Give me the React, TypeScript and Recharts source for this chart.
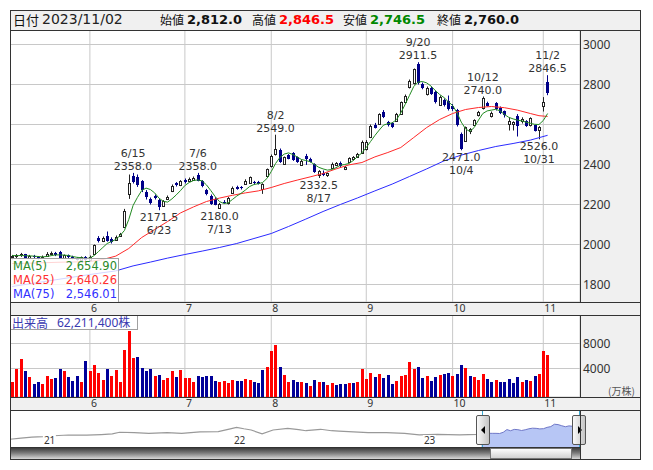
import React from "react";
import { ComposedChart, Bar, Line, Area, XAxis, YAxis, CartesianGrid } from "recharts";

const FONT = '"Noto Sans", "Noto Sans CJK JP", sans-serif';
const HFONT = '"DejaVu Sans", "Noto Sans CJK JP", sans-serif';
const JFONT = '"Noto Sans CJK JP", "Noto Sans", sans-serif';
const NAVY = "#000088";

// ---- categories (trading days) ----
const dates = [
  "5/8","5/9","5/10","5/11","5/12","5/15","5/16","5/17","5/18","5/19","5/22","5/23","5/24","5/25","5/26","5/29","5/30","5/31",
  "6/1","6/2","6/5","6/6","6/7","6/8","6/9","6/12","6/13","6/14","6/15","6/16","6/19","6/20","6/21","6/22","6/23","6/26","6/27","6/28","6/29","6/30",
  "7/3","7/4","7/5","7/6","7/7","7/10","7/11","7/12","7/13","7/14","7/18","7/19","7/20","7/21","7/24","7/25","7/26","7/27","7/28","7/31",
  "8/1","8/2","8/3","8/4","8/7","8/8","8/9","8/10","8/14","8/15","8/16","8/17","8/18","8/21","8/22","8/23","8/24","8/25","8/28","8/29","8/30","8/31",
  "9/1","9/4","9/5","9/6","9/7","9/8","9/11","9/12","9/13","9/14","9/15","9/19","9/20","9/21","9/22","9/25","9/26","9/27","9/28","9/29",
  "10/2","10/3","10/4","10/5","10/6","10/10","10/11","10/12","10/13","10/16","10/17","10/18","10/19","10/20","10/23","10/24","10/25","10/26","10/27","10/30","10/31",
  "11/1","11/2",
];
const futureDates = ["11/6","11/7","11/8","11/9","11/10","11/13","11/14"];
const monthStarts = ["6/1","7/3","8/1","9/1","10/2","11/1"];

// ---- prices ----
const opens = [
  1938,1942,1948,1950,1935,1944,1938,1932,1942,1952,1960,1962,1935,1946,1940,1932,1925,1938,
  1925,1952,2035,2016,2040,2030,2025,2042,2088,2253,2345,2338,2318,2262,2228,2242,2222,2195,2228,2267,2306,2298,
  2322,2318,2322,2346,2318,2272,2245,2228,2184,2214,2206,2260,2287,2286,2304,2308,2312,2312,2280,2342,
  2392,2452,2472,2405,2446,2455,2436,2400,2444,2428,2402,2350,2360,2346,2384,2398,2408,2378,2415,2426,2440,2460,
  2478,2537,2600,2603,2662,2612,2607,2620,2655,2714,2787,2808,2903,2803,2752,2782,2762,2700,2722,2720,
  2695,2672,2555,2520,2566,2600,2650,2680,2706,2645,2705,2682,2665,2605,2603,2645,2620,2618,2598,2595,2575,
  2695,2812,
];
const highs = [
  1948,1952,1958,1953,1948,1948,1942,1945,1962,1965,1963,1968,1950,1950,1944,1936,1940,1942,
  1945,2000,2042,2040,2065,2036,2045,2058,2178,2350,2358,2350,2322,2272,2235,2250,2228,2222,2245,2300,2312,2322,
  2330,2335,2340,2358,2322,2278,2250,2236,2208,2222,2238,2290,2294,2292,2326,2340,2318,2318,2306,2380,
  2450,2549,2480,2440,2452,2462,2440,2425,2453,2434,2406,2372,2370,2360,2410,2412,2415,2392,2436,2442,2458,2520,
  2522,2600,2608,2656,2672,2618,2612,2658,2715,2750,2825,2880,2911.5,2810,2790,2790,2770,2745,2730,2745,
  2702,2678,2560,2590,2582,2626,2668,2740,2714,2665,2712,2690,2670,2635,2616,2652,2636,2622,2636,2598,2592,
  2737,2846.5,
];
const lows = [
  1925,1932,1938,1930,1930,1930,1925,1928,1938,1948,1942,1930,1930,1932,1926,1920,1922,1918,
  1920,1950,2010,2012,2014,2005,2020,2038,2082,2228,2305,2288,2262,2225,2200,2225,2171.5,2190,2222,2262,2290,2292,
  2305,2314,2318,2316,2286,2246,2198,2196,2180,2205,2200,2255,2274,2275,2300,2304,2300,2300,2253,2336,
  2385,2445,2408,2400,2426,2418,2408,2395,2398,2410,2358,2332.5,2342,2338,2378,2392,2388,2372,2412,2420,2436,2455,
  2470,2532,2580,2600,2632,2590,2582,2615,2650,2708,2780,2800,2800,2776,2745,2748,2705,2694,2690,2670,
  2668,2590,2471,2515,2552,2598,2640,2675,2690,2635,2670,2652,2635,2570,2570,2540,2605,2588,2590,2565,2526,
  2665,2746.5,
];
const closes = [
  1942,1948,1952,1935,1944,1936,1932,1940,1955,1960,1948,1935,1946,1938,1930,1925,1936,1922,
  1940,1996,2018,2034,2020,2012,2040,2052,2170,2307,2312,2298,2272,2240,2208,2235,2188,2218,2240,2295,2298,2318,
  2312,2330,2334,2320,2292,2252,2204,2200,2203,2210,2233,2285,2280,2281,2318,2336,2306,2305,2302,2377,
  2445,2478,2414,2436,2430,2422,2413,2420,2426,2414,2363,2368,2350,2356,2405,2408,2394,2388,2432,2438,2453,2513,
  2515,2595,2583,2652,2640,2596,2588,2653,2712,2745,2820,2877,2805,2783,2783,2755,2712,2740,2700,2675,
  2680,2596,2476,2587,2578,2623,2662,2735,2695,2660,2675,2660,2645,2618,2612,2595,2628,2592,2632,2568,2586,
  2712,2760,
];

// ---- volume (万株) and direction (1 = up / red) ----
const volumes = [
  1800,4000,5600,3520,2720,1600,1920,1600,2880,2400,2560,4000,3520,2720,2080,2880,1920,5280,
  3520,4640,3360,2240,4000,2880,3680,1920,7040,9920,5760,5920,4160,3520,3840,2880,3040,2240,2560,3520,2720,3680,
  2560,2560,1920,2880,2720,2880,2880,2080,1920,2080,1760,2240,2080,2080,2400,2240,1920,1760,3680,4320,
  6880,7840,4320,3040,1920,2240,1920,1920,1760,1280,2240,1920,1920,1440,1760,1440,1600,1600,1760,1760,1920,4000,
  2400,3360,2720,3200,2560,3040,1600,2080,2880,3040,5120,4000,4320,2560,2880,2080,2720,3040,3200,3360,
  2880,3200,4640,4160,2880,2720,2240,3200,2400,1920,2240,1920,1920,2400,1760,2720,1920,2240,2080,2880,3200,
  6720,6221,
];
const volUp = [
  1,1,1,0,1,0,0,1,1,1,0,0,1,0,0,0,1,0,
  1,1,1,1,0,1,1,1,1,1,1,0,0,0,0,1,0,1,1,1,0,1,
  1,1,1,0,0,0,0,0,1,1,1,1,0,0,1,1,0,0,0,1,
  1,1,0,1,1,0,0,1,0,1,0,1,0,1,1,0,0,0,1,0,1,1,
  1,1,0,1,0,0,0,1,1,1,1,1,0,0,1,0,0,1,0,0,
  1,0,0,1,0,1,1,1,0,0,1,0,0,0,0,0,1,0,1,0,1,
  1,1,
];

// ---- moving averages ----
const ma5 = [
  1945,1944,1945,1944,1943,1942,1940,1938,1940,1944,1948,1948,1947,1945,1940,1936,1934,1930,
  1932,1945,1965,1985,2005,2015,2025,2045,2070,2125,2195,2235,2270,2282,2275,2258,2232,2216,2212,2228,2248,2270,
  2295,2310,2320,2323,2318,2298,2270,2240,2215,2205,2208,2225,2242,2256,2272,2290,2300,2304,2310,2330,
  2365,2405,2435,2452,2458,2450,2438,2425,2420,2414,2400,2386,2378,2372,2375,2384,2396,2400,2405,2420,2440,2458,
  2485,2515,2545,2572,2597,2604,2608,2624,2658,2700,2745,2790,2812,2815,2808,2792,2770,2750,2735,2714,
  2695,2660,2612,2578,2565,2585,2622,2655,2668,2672,2676,2668,2650,2636,2628,2622,2618,2612,2606,2601,2600,
  2620,2654.9,
];
const ma25Points: [number, number][] = [
  [0,1905],[3,1906],[6,1908],[9,1910],[12,1912],[15,1913],[18,1915],[21,1925],[24,1942],[27,1980],[30,2035],
  [33,2075],[36,2115],[39,2158],[42,2188],[45,2215],[48,2232],[51,2246],[54,2258],[57,2268],[60,2285],[63,2305],
  [66,2322],[69,2338],[72,2355],[75,2378],[78,2398],[81,2410],[84,2438],[87,2460],[90,2485],[93,2535],[96,2585],
  [99,2625],[102,2655],[105,2675],[108,2685],[111,2690],[114,2684],[117,2672],[120,2655],[122,2644],[124,2640.26],
];
const ma75Points: [number, number][] = [
  [0,1790],[6,1810],[12,1830],[18,1850],[24,1868],[28,1893],[32,1912],[36,1932],[40,1950],[44,1967],[48,1985],
  [52,2005],[56,2030],[60,2055],[64,2090],[68,2127],[72,2165],[76,2200],[80,2233],[84,2268],[88,2302],[92,2340],
  [96,2378],[100,2418],[104,2447],[108,2470],[112,2490],[116,2505],[120,2522],[124,2546.01],
];
const legendItems: [string, string, string][] = [
  ["MA(5)", "2,654.90", "#2a8a2a"],
  ["MA(25)", "2,640.26", "#ff3030"],
  ["MA(75)", "2,546.01", "#3030ff"],
];

// ---- annotations ----
const highMarks: [string, number][] = [["6/15",2358.0],["7/6",2358.0],["8/2",2549.0],["9/20",2911.5],["10/12",2740.0],["11/2",2846.5]];
const lowMarks: [string, number][] = [["6/23",2171.5],["7/13",2180.0],["8/17",2332.5],["10/4",2471.0],["10/31",2526.0]];

// ---- axes ----
const priceTicks = [1800,2000,2200,2400,2600,2800,3000];
const volTicks = [4000,8000];
const PRICE_DOMAIN: [number, number] = [1712.5, 3072.5];
const VOL_DOMAIN: [number, number] = [-560, 12560];

// ---- navigator (weekly, since Nov 2020) ----
const navWeeks = [0,3,6,9,12,16,21,25,28,30,34,38,43,47,52,57,60,62,64,66,69,72,76,79,81,85,88,90,94,98,103,108,112,117,123,128,129,
  131,132,133,134,135,136,137,138,139,140,141,142,143,144,145,146,147,148,149,150,151,152,153,154,155,156];
const navValues = [1360,1480,1560,1610,1700,1775,1770,1820,1880,2040,2000,1940,2000,1940,2070,2100,2350,2520,2380,2260,1880,2260,2420,2300,2190,2330,2190,2160,2080,2000,2000,1940,1780,1840,1780,1840,1880,
  1940,1936,1935,1922,2040,2300,2188,2318,2292,2210,2281,2377,2436,2420,2368,2388,2515,2588,2820,2783,2675,2578,2660,2618,2632,2760];
const NAV_DOMAIN: [number, number] = [611, 4200];
const NAV_SEL_START = 129;
const yearTicks = [9, 61, 113];
const yearLabels: Record<number, string> = { 9: "21", 61: "22", 113: "23" };

// ---- tables built from the arrays ----
const rows: any[] = [...dates, ...futureDates].map((d, i) => {
  const r: any = { d };
  if (i < dates.length) {
    r.o = opens[i]; r.h = highs[i]; r.l = lows[i]; r.c = closes[i];
    r.range = [lows[i], highs[i]];
    r.ma5 = ma5[i];
    r.vol = volumes[i];
    r.volRange = [VOL_DOMAIN[0], volumes[i]];
    r.up = volUp[i] === 1;
  }
  return r;
});
ma25Points.forEach(([i, v]) => { rows[i].ma25 = v; });
ma75Points.forEach(([i, v]) => { rows[i].ma75 = v; });
highMarks.forEach(([d, v]) => { const r = rows.find((x) => x.d === d); if (r) r.hiMark = v; });
lowMarks.forEach(([d, v]) => { const r = rows.find((x) => x.d === d); if (r) r.loMark = v; });

const navRows = navWeeks.map((w, k) => ({
  w,
  v: w <= NAV_SEL_START ? navValues[k] : undefined,
  sel: w >= NAV_SEL_START ? navValues[k] : undefined,
}));

// ---- shapes ----
const Candle = (p: any) => {
  const { x, y, width, height, payload } = p;
  if (!payload || payload.o == null) return <g />;
  const { o, h, l, c } = payload;
  const span = h - l || 1;
  const py = (v: number) => y + ((h - v) / span) * height;
  const left = Math.round(x + width / 2 - 1.5);
  const wx = left + 1.5;
  const up = c >= o;
  const yTop = Math.round(py(Math.max(o, c)));
  const yBot = Math.round(py(Math.min(o, c)));
  if (up) {
    return (
      <g>
        <line x1={wx} x2={wx} y1={py(h)} y2={py(l)} stroke="#222" strokeWidth={1} />
        <rect x={left + 0.5} y={yTop + 0.5} width={2} height={Math.max(yBot - yTop, 1)} fill="#fff" stroke="#222" strokeWidth={1} />
      </g>
    );
  }
  return (
    <g>
      <line x1={wx} x2={wx} y1={py(h)} y2={py(l)} stroke={NAVY} strokeWidth={1} />
      <rect x={left} y={yTop} width={3} height={Math.max(yBot - yTop, 1)} fill={NAVY} />
    </g>
  );
};

const VolBar = (p: any) => {
  const { x, y, width, height, payload } = p;
  if (!payload || payload.vol == null) return <g />;
  const left = Math.round(x + width / 2 - 1.5);
  const top = Math.round(y);
  const bottom = Math.round(y + height);
  return <rect x={left} y={top} width={3} height={Math.max(bottom - top, 1)} fill={payload.up ? "#ff0000" : "#000099"} />;
};

const LBL = 11;
const HiLabel = (p: any) => {
  const { cx, cy, payload, index } = p;
  if (!payload || payload.hiMark == null || cy == null) return <g key={`h${index}`} />;
  return (
    <g key={`h${index}`} fontFamily={HFONT} fontSize={LBL} fill="#333" textAnchor="middle">
      <text x={cx} y={cy - 16}>{payload.d}</text>
      <text x={cx} y={cy - 3}>{payload.hiMark.toFixed(1)}</text>
    </g>
  );
};
const LoLabel = (p: any) => {
  const { cx, cy, payload, index } = p;
  if (!payload || payload.loMark == null || cy == null) return <g key={`l${index}`} />;
  return (
    <g key={`l${index}`} fontFamily={HFONT} fontSize={LBL} fill="#333" textAnchor="middle">
      <text x={cx} y={cy + 11}>{payload.loMark.toFixed(1)}</text>
      <text x={cx} y={cy + 24}>{payload.d}</text>
    </g>
  );
};

const MonthTick = (p: any) => {
  const { x, y, payload } = p;
  const m = String(payload.value).split("/")[0];
  return <text x={x + 1} y={y + 9.5} fontSize={10.5} fontFamily={FONT} fill="#333" textAnchor="start">{m}</text>;
};
const RightTick = (p: any) => {
  const { x, y, payload } = p;
  return <text x={x + 3} y={y + 4.5} fontSize={12} fontFamily={FONT} fill="#333" textAnchor="start">{payload.value}</text>;
};
const YearTick = (p: any) => {
  const { x, y, payload } = p;
  const label = yearLabels[payload.value] || "";
  return (
    <g>
      <rect x={x} y={y - 12} width={13} height={11} fill="#fff" />
      <text x={x + 1} y={y - 3} fontSize={10} fontFamily={FONT} fill="#333" textAnchor="start">{label}</text>
    </g>
  );
};

const box = (left: number, top: number, width: number, height: number, style: any = {}) => (
  <div style={{ position: "absolute", left, top, width, height, ...style }} />
);

export default function App() {
  const grey = "#f0f0f0";
  const line = "#333";
  return (
    <div style={{ position: "absolute", left: 0, top: 0, width: 653, height: 470, background: "#fff", overflow: "hidden" }}>
      {/* backgrounds */}
      {box(11, 11, 629, 19, { background: grey })}
      {box(581, 31, 59, 271, { background: grey })}
      {box(11, 303, 629, 12, { background: grey })}
      {box(581, 316, 59, 81, { background: grey })}
      {box(11, 398, 629, 12, { background: grey })}
      {box(581, 411, 59, 48, { background: grey })}

      {/* header */}
      <div style={{ position: "absolute", left: 0, top: 10, height: 19, width: 653, lineHeight: "19px", whiteSpace: "nowrap" }}>
        <span style={{ position: "absolute", left: 13, fontFamily: JFONT, fontSize: 13, color: "#111" }}>日付</span>
        <span style={{ position: "absolute", left: 42, fontFamily: HFONT, fontSize: 14, color: "#222" }}>2023/11/02</span>
        <span style={{ position: "absolute", left: 160, fontFamily: JFONT, fontSize: 12, color: "#111" }}>始値</span>
        <span style={{ position: "absolute", left: 187, fontFamily: HFONT, fontSize: 13, fontWeight: "bold", color: "#111" }}>2,812.0</span>
        <span style={{ position: "absolute", left: 252, fontFamily: JFONT, fontSize: 12, color: "#111" }}>高値</span>
        <span style={{ position: "absolute", left: 279, fontFamily: HFONT, fontSize: 13, fontWeight: "bold", color: "#ff0000" }}>2,846.5</span>
        <span style={{ position: "absolute", left: 343, fontFamily: JFONT, fontSize: 12, color: "#111" }}>安値</span>
        <span style={{ position: "absolute", left: 370, fontFamily: HFONT, fontSize: 13, fontWeight: "bold", color: "#008800" }}>2,746.5</span>
        <span style={{ position: "absolute", left: 437, fontFamily: JFONT, fontSize: 12, color: "#111" }}>終値</span>
        <span style={{ position: "absolute", left: 464, fontFamily: HFONT, fontSize: 13, fontWeight: "bold", color: "#111" }}>2,760.0</span>
      </div>

      {/* price chart */}
      <div style={{ position: "absolute", left: 10, top: 30 }}>
        <ComposedChart width={630} height={285} data={rows} margin={{ top: 0, right: 0, bottom: 0, left: 0 }}>
          <CartesianGrid stroke="#c8c8c8" strokeWidth={1} />
          <XAxis dataKey="d" type="category" ticks={monthStarts} interval={0} tick={MonthTick} tickLine={false} axisLine={false} tickSize={0} tickMargin={0} height={13} />
          <YAxis orientation="right" width={60} domain={PRICE_DOMAIN} allowDataOverflow ticks={priceTicks} tick={RightTick} tickLine={false} axisLine={false} tickSize={0} tickMargin={0} />
          <Bar dataKey="range" shape={Candle} isAnimationActive={false} barSize={3} />
          <Line dataKey="ma75" type="linear" stroke="#2b2bff" strokeWidth={1} dot={false} connectNulls isAnimationActive={false} />
          <Line dataKey="ma25" type="linear" stroke="#ff2a2a" strokeWidth={1} dot={false} connectNulls isAnimationActive={false} />
          <Line dataKey="ma5" type="linear" stroke="#228b22" strokeWidth={1} dot={false} isAnimationActive={false} />
          <Line dataKey="hiMark" stroke="none" dot={HiLabel} activeDot={false} isAnimationActive={false} />
          <Line dataKey="loMark" stroke="none" dot={LoLabel} activeDot={false} isAnimationActive={false} />
        </ComposedChart>
      </div>

      {/* volume chart */}
      <div style={{ position: "absolute", left: 10, top: 315 }}>
        <ComposedChart width={630} height={95} data={rows} margin={{ top: 0, right: 0, bottom: 0, left: 0 }}>
          <CartesianGrid stroke="#c8c8c8" strokeWidth={1} />
          <XAxis dataKey="d" type="category" ticks={monthStarts} interval={0} tick={MonthTick} tickLine={false} axisLine={false} tickSize={0} tickMargin={0} height={13} />
          <YAxis orientation="right" width={60} domain={VOL_DOMAIN} allowDataOverflow ticks={volTicks} tick={RightTick} tickLine={false} axisLine={false} tickSize={0} tickMargin={0} />
          <Bar dataKey="volRange" shape={VolBar} isAnimationActive={false} barSize={3} />
        </ComposedChart>
      </div>

      {/* navigator */}
      <div style={{ position: "absolute", left: 10, top: 410 }}>
        <ComposedChart width={570} height={38} data={navRows} margin={{ top: 0, right: 0, bottom: 0, left: 0 }}>
          <XAxis dataKey="w" type="number" domain={[0, 156]} allowDataOverflow ticks={yearTicks} interval={0} tick={YearTick} tickLine={false} axisLine={false} tickSize={0} tickMargin={0} height={1} />
          <YAxis hide domain={NAV_DOMAIN} allowDataOverflow />
          <Line dataKey="v" type="linear" stroke="#999" strokeWidth={1.2} dot={false} isAnimationActive={false} />
          <Area dataKey="sel" type="linear" stroke="#7078c8" strokeWidth={1} fill="#b7c6f5" fillOpacity={1} dot={false} isAnimationActive={false} />
        </ComposedChart>
      </div>

      {/* MA legend */}
      <div style={{ position: "absolute", left: 10, top: 258, width: 109, height: 45, boxSizing: "border-box", border: "1px solid #a0a0a0", background: "rgba(255,255,255,0.8)", fontFamily: HFONT, fontSize: 11.5, lineHeight: "14px" }}>
        {legendItems.map(([k, v, c]) => (
          <div key={k} style={{ position: "relative", height: 14, color: c }}>
            <span style={{ position: "absolute", left: 2 }}>{k}</span>
            <span style={{ position: "absolute", right: 1 }}>{v}</span>
          </div>
        ))}
      </div>

      {/* volume label */}
      <div style={{ position: "absolute", left: 10, top: 315, width: 128, height: 15, boxSizing: "border-box", border: "1px solid #a0a0a0", background: "rgba(255,255,255,0.85)", color: "#3a3ab0", fontSize: 12, lineHeight: "13px", whiteSpace: "nowrap" }}>
        <span style={{ position: "absolute", left: 1, fontFamily: JFONT }}>出来高</span>
        <span style={{ position: "absolute", left: 46, fontFamily: FONT }}>62,211,400株</span>
      </div>
      <div style={{ position: "absolute", left: 608, top: 383, fontFamily: JFONT, fontSize: 10, color: "#555", whiteSpace: "nowrap" }}>(万株)</div>

      {/* scrollbar */}
      {box(11, 448, 569, 11, { background: "linear-gradient(to bottom, #3c3c3c, #7a7a7a 45%, #d8d8d8)" })}
      {box(490, 448, 82, 11, { background: "linear-gradient(to bottom, #fdfdfd, #d2d2d2)", border: "1px solid #777", boxSizing: "border-box" })}

      {/* navigator handles */}
      {box(482, 410, 1, 38, { background: "#3aa8d0" })}
      {box(579, 410, 1, 38, { background: "#3aa8d0" })}
      <div style={{ position: "absolute", left: 476, top: 415, width: 14, height: 30, boxSizing: "border-box", border: "1px solid #555", borderRadius: 2, background: "linear-gradient(to right, #fafafa, #c4c4c4)" }}>
        <div style={{ position: "absolute", left: 4, top: 10, width: 0, height: 0, borderTop: "4px solid transparent", borderBottom: "4px solid transparent", borderRight: "4px solid #000" }} />
      </div>
      <div style={{ position: "absolute", left: 572, top: 415, width: 14, height: 30, boxSizing: "border-box", border: "1px solid #555", borderRadius: 2, background: "linear-gradient(to right, #fafafa, #c4c4c4)" }}>
        <div style={{ position: "absolute", left: 5, top: 10, width: 0, height: 0, borderTop: "4px solid transparent", borderBottom: "4px solid transparent", borderLeft: "4px solid #000" }} />
      </div>

      {/* borders */}
      {box(10, 10, 631, 450, { border: `1px solid ${line}`, boxSizing: "border-box" })}
      {box(10, 30, 631, 1, { background: line })}
      {box(10, 302, 631, 1, { background: line })}
      {box(10, 315, 631, 1, { background: line })}
      {box(10, 397, 631, 1, { background: line })}
      {box(10, 410, 631, 1, { background: line })}
      {box(10, 447, 571, 1, { background: line })}
      {box(580, 30, 1, 272, { background: line })}
      {box(580, 315, 1, 82, { background: line })}
      {box(580, 410, 1, 50, { background: line })}
    </div>
  );
}
